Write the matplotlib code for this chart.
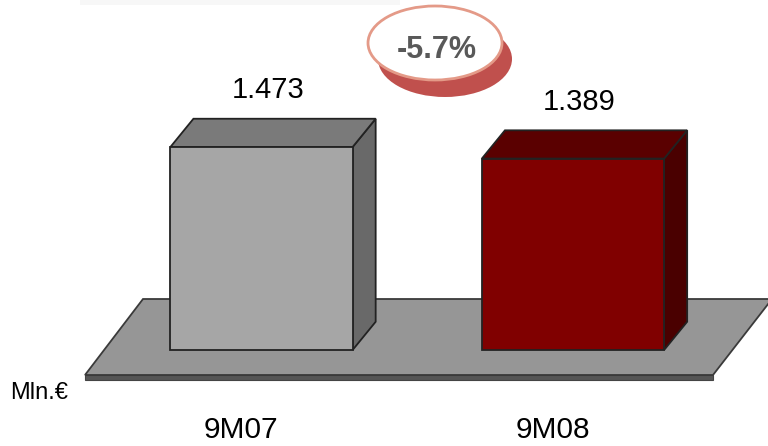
import matplotlib
matplotlib.use("Agg")
import matplotlib.pyplot as plt
from matplotlib.patches import Polygon, Ellipse, Rectangle

plt.rcParams['font.family'] = ['Liberation Sans', 'DejaVu Sans']

# Revenues, Mln.€
periods = ['9M07', '9M08']
values = [1473, 1389]
front_colors = ['#a6a6a6', '#800000']
top_colors = ['#7a7a7a', '#5a0000']
side_colors = ['#696969', '#4a0000']
unit_label = 'Mln.€'

W, H = 768, 446
fig = plt.figure(figsize=(W / 100, H / 100), dpi=100)
ax = fig.add_axes([0, 0, 1, 1])
ax.set_xlim(-0.8395, 1.626)
ax.set_ylim(-696.6, 2539.6)
ax.axis('off')


def frac(x, y):
    # pixel position -> axes fraction
    return (x / W, 1 - y / H)


# faint band along the top
ax.add_patch(Rectangle(frac(80, 5), 320 / W, 5 / H, transform=ax.transAxes,
                       facecolor='#f7f7f7', edgecolor='none', zorder=0))

# floor slab
floor = [frac(143, 299), frac(772, 299), frac(713, 375), frac(85, 375)]
strip = [frac(85, 375), frac(713, 375), frac(713, 380), frac(85, 380)]
ax.add_patch(Polygon(strip, closed=True, transform=ax.transAxes,
                     facecolor='#555555', edgecolor='#444444', lw=0.8, zorder=1))
ax.add_patch(Polygon(floor, closed=True, transform=ax.transAxes,
                     facecolor='#969696', edgecolor='#3a3a3a', lw=1.3, zorder=1))

# 3D bars
bar_w = 0.585
dx, dy = 0.074, 205
for i, (v, fc, tc, sc) in enumerate(zip(values, front_colors, top_colors, side_colors)):
    x0, x1 = i - bar_w / 2, i + bar_w / 2
    top = [(x0, v), (x1, v), (x1 + dx, v + dy), (x0 + dx, v + dy)]
    side = [(x1, 0), (x1 + dx, dy), (x1 + dx, v + dy), (x1, v)]
    ax.add_patch(Polygon(side, closed=True, facecolor=sc, edgecolor='#222222', lw=1.3, zorder=3))
    ax.add_patch(Polygon(top, closed=True, facecolor=tc, edgecolor='#222222', lw=1.3, zorder=3))
    ax.bar(i, v, width=bar_w, color=fc, edgecolor='#222222', linewidth=1.3, zorder=4)
    ax.annotate(f"{v:,}".replace(',', '.'), (i, v), xytext=(4.5, 35),
                textcoords='offset points', ha='center', va='baseline',
                fontsize=21, color='black', zorder=5)
    # category label near the bottom edge
    ax.annotate(periods[i], (i, 1 - 438 / H), xycoords=('data', 'axes fraction'),
                xytext=(-14.5, 0), textcoords='offset points',
                ha='center', va='baseline', fontsize=21.5, color='black')

ax.text(10 / W, 1 - 399 / H, unit_label, transform=ax.transAxes,
        fontsize=17, ha='left', va='baseline', color='black')

# change badge
pct = (values[1] - values[0]) / values[0] * 100
cx, cy = frac(435, 43)
ax.add_patch(Ellipse(frac(445, 59), 134 / W, 76 / H, transform=ax.transAxes,
                     facecolor='#c0504d', edgecolor='none', zorder=6))
ax.add_patch(Ellipse((cx, cy), 134 / W, 74 / H, transform=ax.transAxes,
                     facecolor='white', edgecolor='#e49a88', lw=2, zorder=7))
ax.text(437 / W, 1 - 58 / H, f"{pct:.1f}%", transform=ax.transAxes,
        ha='center', va='baseline', fontsize=22, fontweight='bold',
        color='#595959', zorder=8)

fig.savefig('out.png', dpi=100)
